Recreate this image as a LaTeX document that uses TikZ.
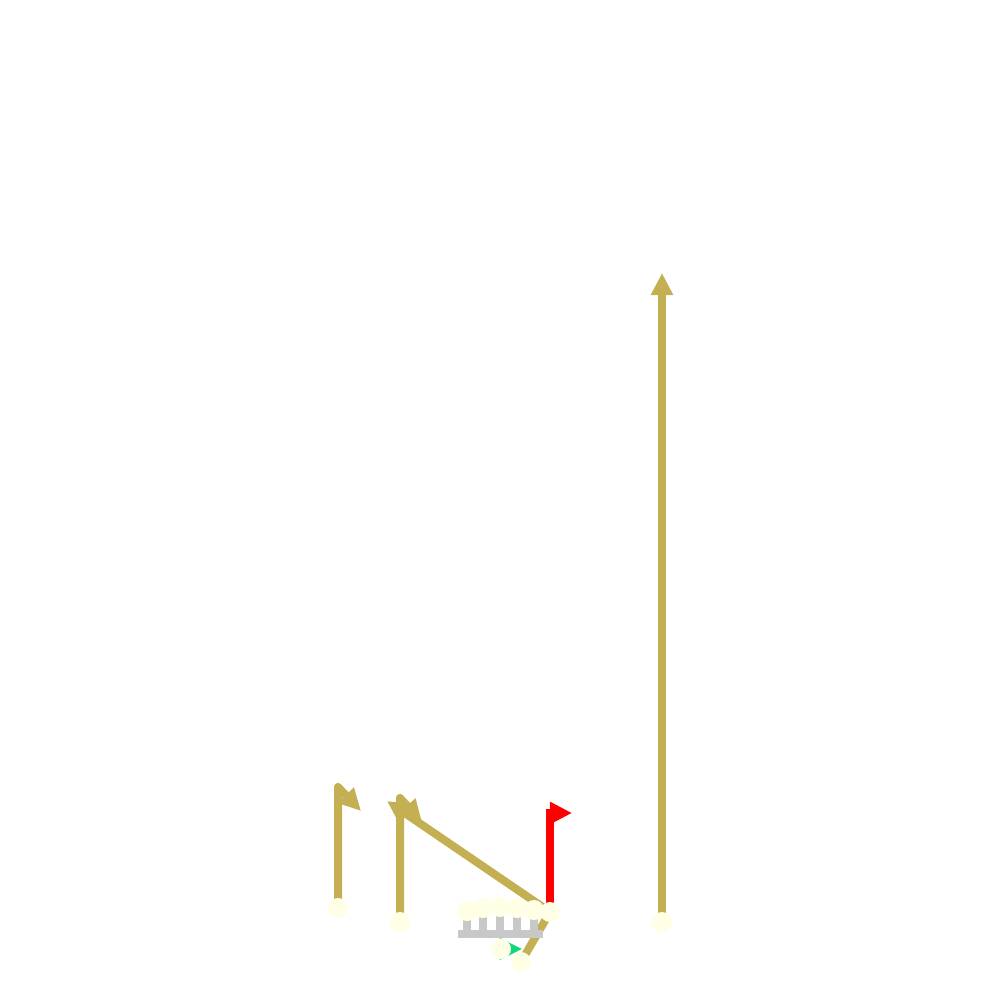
\documentclass[tikz,border=0pt]{standalone}
\usetikzlibrary{arrows.meta, backgrounds, calc}
\definecolor{creme}{RGB}{255,255,230}
\definecolor{sable}{RGB}{196,176,82}
\definecolor{rouge}{RGB}{255,0,0}
\definecolor{vert}{RGB}{20,215,125}
\definecolor{gris}{RGB}{200,200,200}

\begin{document}
\begin{tikzpicture}[x=0.01cm, y=-0.01cm,
		>={Triangle[length=0.22cm, width=0.21cm]},
		player/.style={circle, fill=creme, inner sep=0pt, minimum size=0.2cm},
		route/.style={draw=sable, line width=0.08cm, line join=round, ->},
		hot/.style={draw=rouge, line width=0.08cm, ->},
		motion/.style={draw=vert, line width=0.03cm, ->},
		block/.style={draw=gris, line width=0.075cm}
		]
		\useasboundingbox (0,0) rectangle (1000,1000);
		
		% Joueurs
		\node[player] (wr1) at (338,908) {};
		\node[player] (wr2) at (400,922) {};
		\foreach \x/\y [count=\i] in {467/911, 483/908, 500/907, 517/908, 534/910}
		\node[player] (ol\i) at (\x,\y) {};
		\node[player] (te) at (550,912) {};
		\node[player] (rb) at (501,949) {};
		\node[player] (qb) at (521,962) {};
		\node[player] (wr3) at (662,922) {};
		
		% Points des routes
		\coordinate (c1) at (338,787);
		\coordinate (t1) at (361,811);
		\coordinate (c2) at (400,798);
		\coordinate (t2) at (422,822);
		\coordinate (t3) at (387,801);
		\coordinate (c4) at (550,813);
		\coordinate (t4) at (572,813);
		\coordinate (t5) at (662,273);
		\coordinate (t6) at (522,949);
		\coordinate (bar) at (0,934);
		
		\begin{scope}[on background layer]
			\draw[route] (wr1.center) -- (c1) -- (t1);
			\draw[route] (wr2.center) -- (c2) -- (t2);
			\draw[route] (qb.center) -- (te.center) -- (t3);
			\draw[route] (wr3.center) -- (t5);
			\draw[hot] (te.center) -- (c4) -- (t4);
			\draw[motion] (rb.center) -- (t6);
			\foreach \i in {1,...,5}
			\draw[block] (ol\i.center) -- (ol\i |- bar)
			($(ol\i |- bar)+(-9,0)$) -- ($(ol\i |- bar)+(9,0)$);
		\end{scope}
	\end{tikzpicture}
\end{document}
